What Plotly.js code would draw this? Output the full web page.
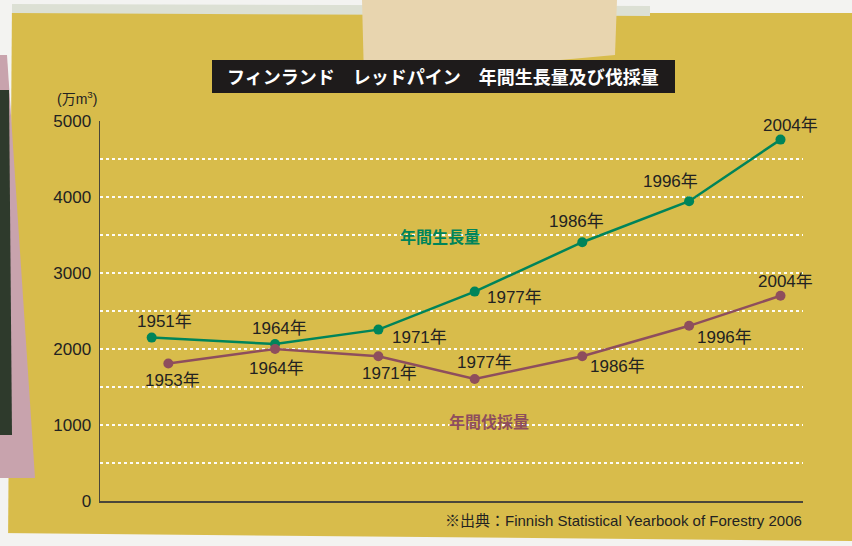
<!DOCTYPE html>
<html>
<head>
<meta charset="utf-8">
<script src="https://cdn.plot.ly/plotly-3.0.1.min.js"></script>
<style>html,body{margin:0;padding:0;background:#fff;}#chart{width:852px;height:546px;}</style>
</head>
<body>
<div id="chart"></div>
<script>
// ---- data ----
const growthYears   = [1951, 1964, 1971, 1977, 1986, 1996, 2004];
const growthValues  = [2150, 2065, 2255, 2755, 3405, 3945, 4755];
const harvestYears  = [1953, 1964, 1971, 1977, 1986, 1996, 2004];
const harvestValues = [1810, 2000, 1905, 1605, 1905, 2305, 2700];
// horizontal slot of each survey year on the (unlabelled) time axis, 0..100
const growthSlot  = [7.35, 24.9, 39.6, 53.3, 68.6, 83.8, 96.8];
const harvestSlot = [9.72, 24.9, 39.6, 53.3, 68.6, 83.8, 96.8];
const yTickVals = [0, 500, 1000, 1500, 2000, 2500, 3000, 3500, 4000, 4500, 5000];
const yTickText = ["0", "", "1000", "", "2000", "", "3000", "", "4000", "", "5000"];
const titleText = "フィンランド　レッドパイン　年間生長量及び伐採量";
const growthName = "年間生長量";
const harvestName = "年間伐採量";
const unitText = "(万m<sup>3</sup>)";
const sourceText = "※出典：Finnish Statistical Yearbook of Forestry 2006";

// ---- style ----
const W = 852, H = 546, ML = 100, MR = 49, MT = 121, MB = 45;
const PW = W - ML - MR, PH = H - MT - MB;
const fx = p => (p - ML) / PW;           // pixel -> paper x
const fy = p => (H - MB - p) / PH;       // pixel -> paper y
const GREEN = "#00845A", RED = "#8E4E5D", INK = "#222222";
const FONT = "Liberation Sans, Noto Sans CJK JP, sans-serif";
const CJK = "Noto Sans CJK JP, sans-serif";
const yellow = "#D8BC4B";

// label offsets (pixels) relative to each point
const gOff = [[13, -16], [4, -16], [41, 8], [40, 6], [-6, -21], [-19, -20], [10, -14]];
const hOff = [[4, 17], [1, 19], [11, 17], [10, -17], [35, 10], [35, 12], [5, -14]];

const traces = [
  {x: growthSlot, y: growthValues, type: "scatter", mode: "lines+markers",
   line: {color: GREEN, width: 2.5}, marker: {color: GREEN, size: 10}, cliponaxis: false, hoverinfo: "skip"},
  {x: harvestSlot, y: harvestValues, type: "scatter", mode: "lines+markers",
   line: {color: RED, width: 2.5}, marker: {color: RED, size: 10}, cliponaxis: false, hoverinfo: "skip"}
];

const ann = [];
growthYears.forEach((yr, i) => ann.push({x: growthSlot[i], y: growthValues[i], xref: "x", yref: "y",
  xanchor: "center", yanchor: "middle",
  text: yr + "年", showarrow: false, xshift: gOff[i][0], yshift: -gOff[i][1],
  font: {family: FONT, size: 17, color: INK}}));
harvestYears.forEach((yr, i) => ann.push({x: harvestSlot[i], y: harvestValues[i], xref: "x", yref: "y",
  xanchor: "center", yanchor: "middle",
  text: yr + "年", showarrow: false, xshift: hOff[i][0], yshift: -hOff[i][1],
  font: {family: FONT, size: 17, color: INK}}));
const pAnn = (px, py, text, font, xa) => ({x: fx(px), y: fy(py), xref: "paper", yref: "paper",
  xanchor: xa || "center", yanchor: "middle", text, showarrow: false, font});
ann.push(pAnn(440, 236, "<b>" + growthName + "</b>", {family: CJK, size: 16, color: GREEN}));
ann.push(pAnn(489, 421, "<b>" + harvestName + "</b>", {family: CJK, size: 16, color: RED}));
ann.push(pAnn(443, 76.5, "<b>" + titleText + "</b>", {family: CJK, size: 18, color: "#ffffff"}));
ann.push(pAnn(77, 98, unitText, {family: FONT, size: 14, color: INK}));
ann.push(pAnn(804, 520, sourceText, {family: FONT, size: 15, color: INK}, "right"));

const poly = (pts, fill) => ({type: "path", xref: "paper", yref: "paper", layer: "below",
  path: "M" + pts.map(p => fx(p[0]) + "," + fy(p[1])).join(" L") + " Z",
  fillcolor: fill, line: {width: 0}});

const shapes = [
  poly([[0, 0], [852, 0], [852, 13], [0, 13]], "#F3F3F1"),
  poly([[12, 4], [650, 6], [650, 16], [12, 13]], "#DCE0D4"),
  poly([[362, 0], [617, 0], [615, 55], [364, 78]], "#E8D5AF"),
  poly([[0, 0], [12, 0], [8, 546], [0, 546]], "#F3F3F1"),
  poly([[0, 55], [7, 55], [35, 478], [0, 478]], "#C8A3AD"),
  poly([[0, 90], [9, 90], [12, 435], [0, 435]], "#2E3A2C"),
  poly([[0, 533], [852, 541], [852, 546], [0, 546]], "#F3F3F1"),
  {type: "rect", xref: "paper", yref: "paper", layer: "below",
   x0: fx(212), x1: fx(675), y0: fy(60), y1: fy(93), fillcolor: "#1E1B1B", line: {width: 0}}
];

const layout = {
  width: W, height: H, margin: {l: ML, r: MR, t: MT, b: MB},
  paper_bgcolor: yellow, plot_bgcolor: "rgba(0,0,0,0)", showlegend: false,
  xaxis: {range: [0, 100], showgrid: false, zeroline: false, showticklabels: false, ticks: "",
    showline: true, linecolor: "#4A463A", linewidth: 1.5, fixedrange: true},
  yaxis: {range: [0, 5000], tickvals: yTickVals, ticktext: yTickText, showgrid: true,
    gridcolor: "rgba(255,255,255,0.95)", griddash: "dot", gridwidth: 1.3, zeroline: false,
    showline: true, linecolor: "#4A463A", linewidth: 1.5, ticks: "", ticklabelstandoff: 4,
    tickfont: {family: FONT, size: 17, color: INK}, fixedrange: true},
  annotations: ann, shapes: shapes
};

Plotly.newPlot("chart", traces, layout, {displayModeBar: false, staticPlot: true});
</script>
</body>
</html>
